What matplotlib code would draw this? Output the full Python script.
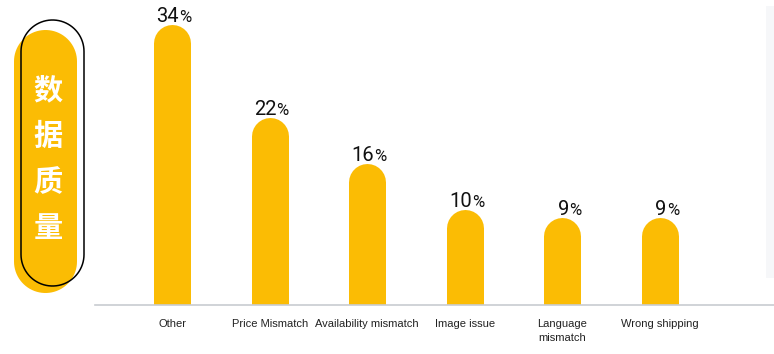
import numpy as np
import matplotlib as mpl
import matplotlib.pyplot as plt
from matplotlib.patches import Polygon, Rectangle

mpl.rcParams['font.family'] = ['Roboto', 'DejaVu Sans']

categories = ["Other", "Price Mismatch", "Availability mismatch", "Image issue",
              "Language\nmismatch", "Wrong shipping"]
values = [34, 22, 16, 10, 9, 9]
title_chars = ["数", "据", "质", "量"]

yellow = '#FBBC04'


def pill(x0, y0, w, h):
    # vertical pill outline, pixel coords with y going down
    r = w / 2
    t1 = np.linspace(np.pi, 2 * np.pi, 40)
    t2 = np.linspace(0, np.pi, 40)
    top = np.column_stack([x0 + r + r * np.cos(t1), y0 + r + r * np.sin(t1)])
    bot = np.column_stack([x0 + r + r * np.cos(t2), y0 + h - r + r * np.sin(t2)])
    return np.vstack([top, bot])


fig = plt.figure(figsize=(7.74, 3.54), dpi=100)

# decoration layer in pixel units
deco = fig.add_axes([0, 0, 1, 1])
deco.set_xlim(0, 774)
deco.set_ylim(354, 0)
deco.axis('off')
deco.add_patch(Polygon(pill(14, 30, 63, 263), closed=True, facecolor=yellow, edgecolor='none'))
deco.add_patch(Polygon(pill(21, 20, 63, 266), closed=True, facecolor='none',
                       edgecolor='black', linewidth=1.1))
deco.add_patch(Rectangle((766, 6), 8, 272, facecolor='#f6f7f9', edgecolor='none'))
for i, ch in enumerate(title_chars):
    deco.text(48, 90 + i * 46, ch, color='white', fontsize=21, fontweight='bold',
              ha='center', va='center', family=['Noto Sans CJK SC', 'DejaVu Sans'])

# main chart
ax = fig.add_axes([95 / 774, 49 / 354, 679 / 774, 305 / 354], facecolor='none')
x = list(range(len(values)))
bar_lw = 37 * 72 / 100  # bar width in points
for xi, v in zip(x, values):
    ax.plot([xi, xi], [-5, v], color=yellow, linewidth=bar_lw,
            solid_capstyle='round', zorder=2)
    ax.annotate(str(v), (xi, v), xytext=(5, 15), textcoords='offset points',
                ha='right', va='baseline', fontsize=14.5, color='#111111')
    ax.annotate('%', (xi, v), xytext=(5, 15), textcoords='offset points',
                ha='left', va='baseline', fontsize=12, color='#111111')

ax.set_xlim(-0.79, 6.17)
ax.set_ylim(0, 39.6)
ax.set_yticks([])
ax.set_xticks(x, categories, fontsize=8, color='#222222', linespacing=1.5,
              family=['Liberation Sans', 'DejaVu Sans'])
ax.tick_params(axis='x', length=0, pad=10)
for s in ['left', 'right', 'top']:
    ax.spines[s].set_visible(False)
ax.spines['bottom'].set_color('#c8ccd1')
ax.spines['bottom'].set_linewidth(1.2)
ax.spines['bottom'].set_zorder(3)

fig.savefig('out.png', dpi=100)
